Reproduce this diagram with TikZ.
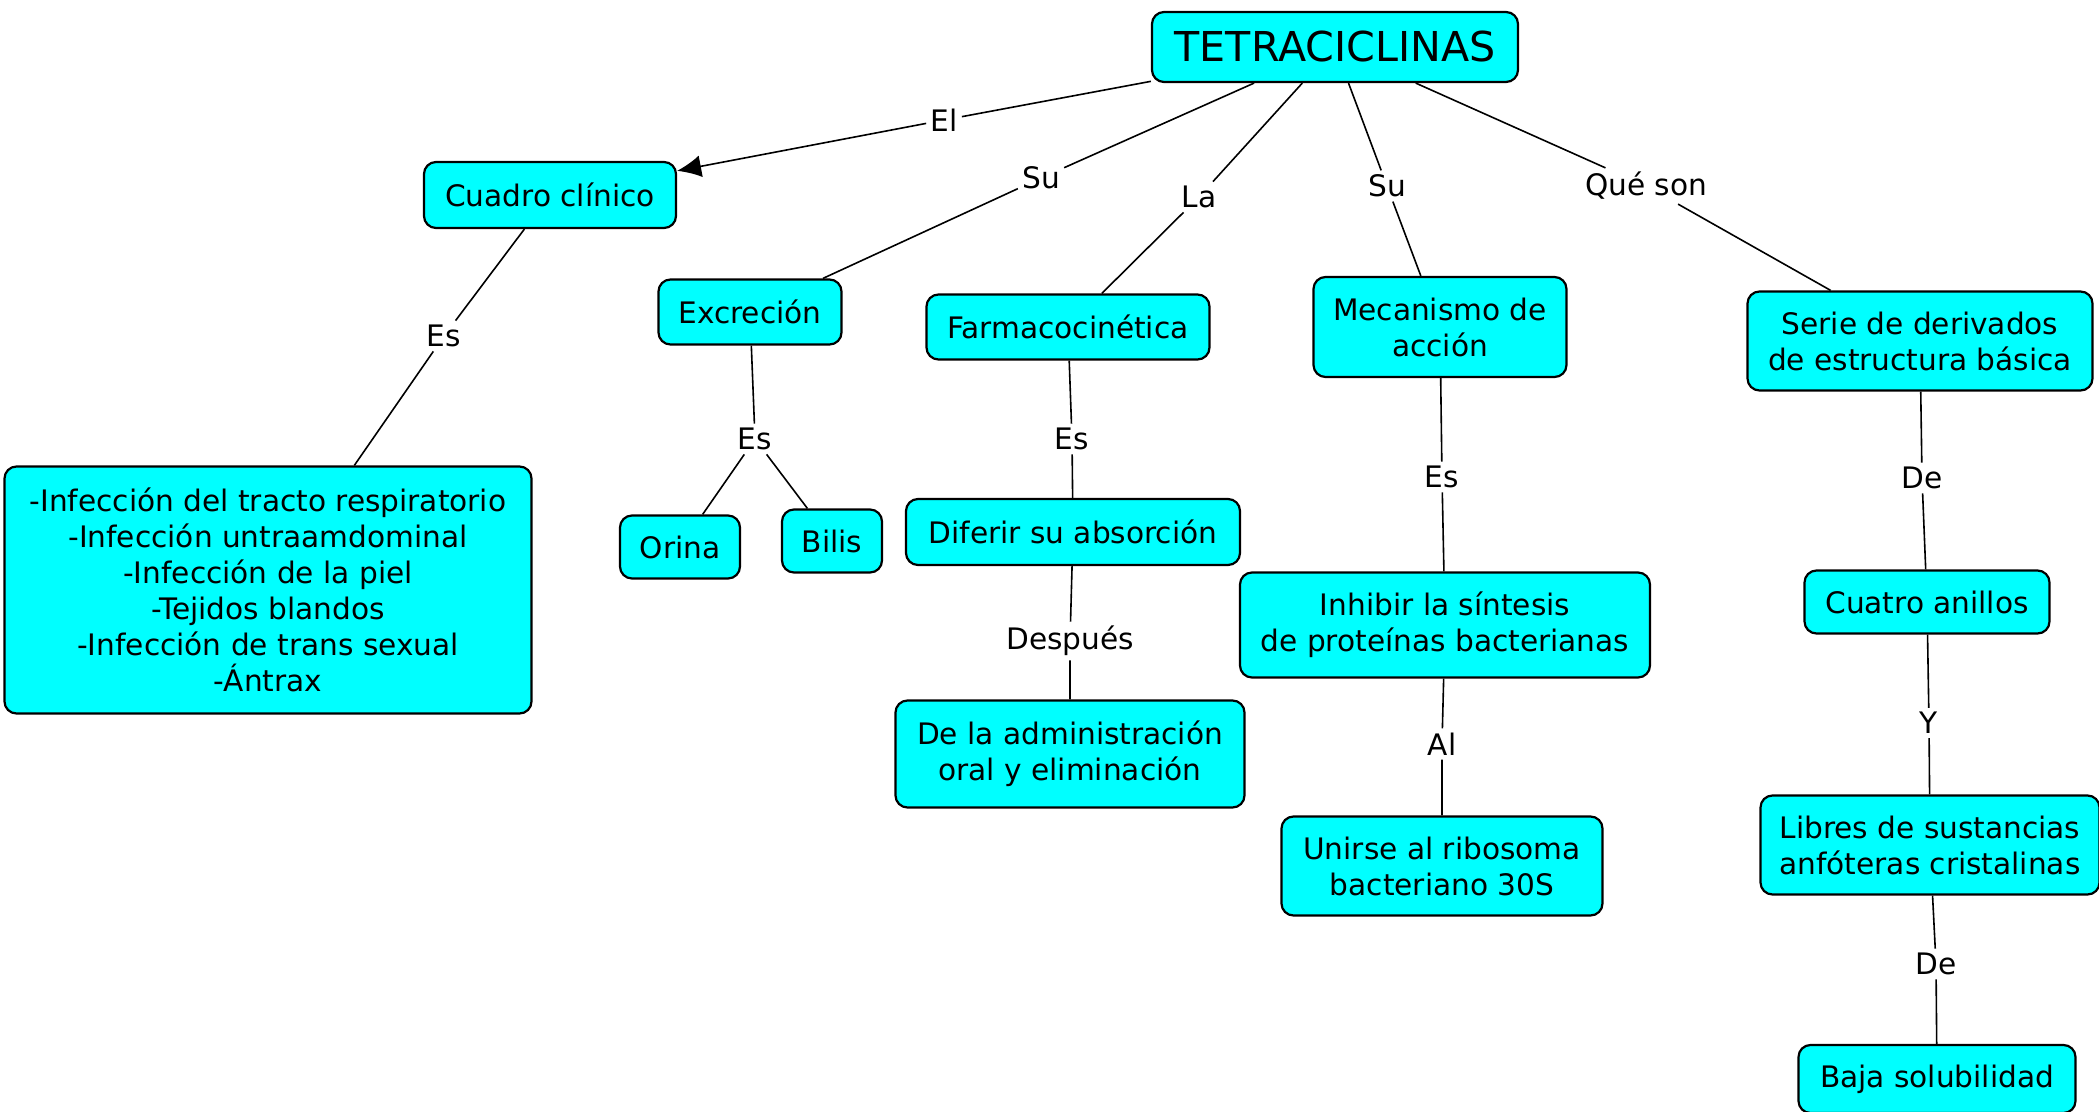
\documentclass[tikz,border=0pt]{standalone}
\usepackage{fontspec}
\setmainfont{DejaVu Sans}
\usetikzlibrary{arrows.meta}

\definecolor{celeste}{RGB}{0,255,255}
\tikzset{
  concepto/.style={draw, rounded corners=6pt, fill=celeste, line width=1.1pt, align=center, inner sep=0pt, font=\fontsize{14.8}{18}\selectfont},
  enlace/.style={fill=white, inner sep=2pt, font=\fontsize{14.8}{18}\selectfont},
  linea/.style={line width=0.8pt},
}

\begin{document}
\begin{tikzpicture}[x=0.5pt,y=-0.5pt]
\useasboundingbox (0,0) rectangle (2099,1112);

% conceptos
\node[concepto, minimum width=183pt, minimum height=35pt, font=\fontsize{20.6}{24}\selectfont] (tetra) at (1335,47) {TETRACICLINAS};
\node[concepto, minimum width=126pt, minimum height=33pt] (cuadro) at (550,195) {Cuadro clínico};
\node[concepto, minimum width=263.5pt, minimum height=123.5pt] (lista) at (268,590) {-Infección del tracto respiratorio\\-Infección untraamdominal\\-Infección de la piel\\-Tejidos blandos\\-Infección de trans sexual\\-Ántrax};
\node[concepto, minimum width=91.5pt, minimum height=32.5pt] (excrecion) at (750,312) {Excreción};
\node[concepto, minimum width=60pt, minimum height=31.5pt] (orina) at (680,547) {Orina};
\node[concepto, minimum width=50pt, minimum height=31.5pt] (bilis) at (832,541) {Bilis};
\node[concepto, minimum width=141.5pt, minimum height=32.5pt] (farmaco) at (1068,327) {Farmacocinética};
\node[concepto, minimum width=167pt, minimum height=33pt] (diferir) at (1073,532) {Diferir su absorción};
\node[concepto, minimum width=174.5pt, minimum height=53.5pt] (admin) at (1070,754) {De la administración\\oral y eliminación};
\node[concepto, minimum width=126.5pt, minimum height=50pt] (mecanismo) at (1440,327) {Mecanismo de\\acción};
\node[concepto, minimum width=205pt, minimum height=52.5pt] (inhibir) at (1445,625) {Inhibir la síntesis\\de proteínas bacterianas};
\node[concepto, minimum width=160.5pt, minimum height=49.5pt] (unirse) at (1442,866) {Unirse al ribosoma\\bacteriano 30S};
\node[concepto, minimum width=172.5pt, minimum height=49.5pt] (serie) at (1920,341) {Serie de derivados\\de estructura básica};
\node[concepto, minimum width=122.5pt, minimum height=31.5pt] (cuatro) at (1927,602) {Cuatro anillos};
\node[concepto, minimum width=169.5pt, minimum height=49.5pt] (libres) at (1930,845) {Libres de sustancias\\anfóteras cristalinas};
\node[concepto, minimum width=138.5pt, minimum height=34pt] (baja) at (1937,1079) {Baja solubilidad};

% enlaces
\node[enlace] (el) at (944,120) {El};
\node[enlace] (su1) at (1041,178) {Su};
\node[enlace] (la) at (1199,197) {La};
\node[enlace] (su2) at (1387,186) {Su};
\node[enlace] (queson) at (1646,186) {Qué son};
\node[enlace] (es1) at (444,336) {Es};
\node[enlace] (es2) at (755,439) {Es};
\node[enlace] (es3) at (1072,439) {Es};
\node[enlace] (despues) at (1070,641) {Después};
\node[enlace] (es4) at (1442,477) {Es};
\node[enlace] (al) at (1442,744) {Al};
\node[enlace] (de1) at (1922,478) {De};
\node[enlace] (y) at (1929,723) {Y};
\node[enlace] (de2) at (1936,964) {De};

% conectores
\draw[linea] (tetra) -- (el);
\draw[linea, -{Latex[length=12pt,width=11pt]}] (el) -- (cuadro);
\draw[linea] (tetra) -- (su1) -- (excrecion);
\draw[linea] (tetra) -- (la) -- (farmaco);
\draw[linea] (tetra) -- (su2) -- (mecanismo);
\draw[linea] (tetra) -- (queson) -- (serie);
\draw[linea] (cuadro) -- (es1) -- (lista);
\draw[linea] (excrecion) -- (es2);
\draw[linea] (es2) -- (orina);
\draw[linea] (es2) -- (bilis);
\draw[linea] (farmaco) -- (es3) -- (diferir);
\draw[linea] (diferir) -- (despues) -- (admin);
\draw[linea] (mecanismo) -- (es4) -- (inhibir);
\draw[linea] (inhibir) -- (al) -- (unirse);
\draw[linea] (serie) -- (de1) -- (cuatro);
\draw[linea] (cuatro) -- (y) -- (libres);
\draw[linea] (libres) -- (de2) -- (baja);
\end{tikzpicture}
\end{document}
